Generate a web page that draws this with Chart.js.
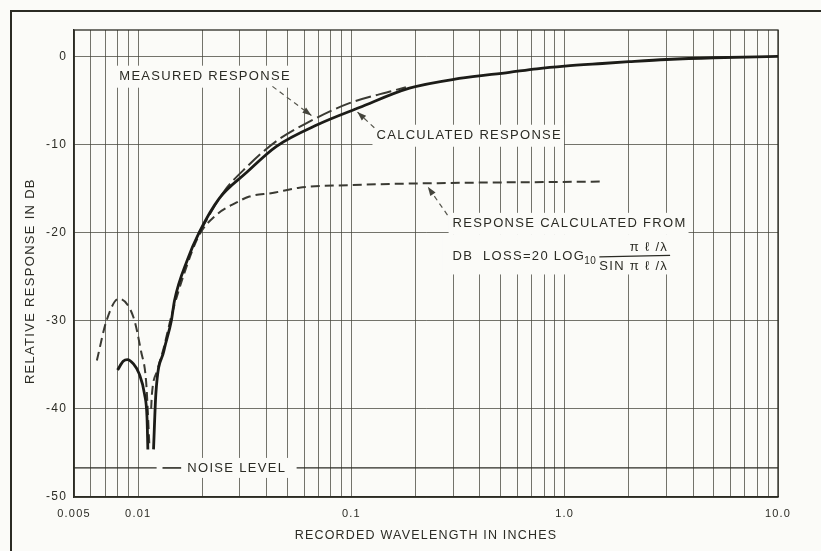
<!DOCTYPE html>
<html>
<head>
<meta charset="utf-8">
<script src="https://cdn.jsdelivr.net/npm/chart.js@4.4.1/dist/chart.umd.min.js"></script>
<style>
  html, body { margin: 0; padding: 0; background: #fbfbf8; }
  #wrap { position: relative; width: 821px; height: 551px; }
  #frame { position: absolute; left: 10px; top: 10px; right: 0; bottom: 0;
           border-top: 2px solid #2b2b24; border-left: 2px solid #2b2b24; pointer-events: none; }
  canvas { display: block; }
</style>
</head>
<body>
<div id="wrap">
  <canvas id="chart" width="821" height="551"></canvas>
  <div id="frame"></div>
</div>
<script>
// recorded wavelength (inches) vs relative response (dB)
const calcX = [0.0080, 0.0085, 0.0089, 0.0095, 0.0101, 0.0107, 0.0110, 0.0111, 0.0115, 0.0118, 0.0121, 0.0132, 0.0143, 0.0148, 0.0170, 0.0193, 0.0240, 0.0321, 0.0445, 0.070, 0.109, 0.187, 0.32, 0.55, 0.74, 1.0, 1.5, 2.0, 3.0, 5.0, 10.0];
const calcY = [-35.6, -34.6, -34.4, -34.9, -36.0, -38.3, -41.0, -44.6, null, -44.6, -38.3, -33.4, -30.0, -27.7, -23.1, -20.0, -16.1, -13.2, -10.2, -7.7, -5.8, -3.6, -2.5, -1.8, -1.4, -1.1, -0.8, -0.6, -0.35, -0.15, 0.0];

const measX = [0.0193, 0.0253, 0.0321, 0.0445, 0.0635, 0.0978, 0.156, 0.18];
const measY = [-20.0, -15.3, -12.6, -9.6, -7.4, -5.3, -3.9, -3.5];

const formulaX = [0.0064, 0.0071, 0.0081, 0.0095, 0.0103, 0.0109, 0.0113, 0.0114, 0.0115, 0.0116, 0.0123, 0.0132, 0.0143, 0.0165, 0.0193, 0.0232, 0.0288, 0.0332, 0.0426, 0.0569, 0.0978, 0.224, 1.5];
const formulaY = [-34.5, -30.0, -27.5, -29.6, -33.4, -37.0, -44.4, null, -40.0, -38.3, -35.6, -33.0, -29.5, -24.5, -20.3, -18.0, -16.6, -15.9, -15.5, -14.9, -14.6, -14.4, -14.2];

const noiseLevel = -46.7;

const xGrid = [0.005, 0.006, 0.007, 0.008, 0.009,
               0.01, 0.02, 0.03, 0.04, 0.05, 0.06, 0.07, 0.08, 0.09,
               0.1, 0.2, 0.3, 0.4, 0.5, 0.6, 0.7, 0.8, 0.9,
               1, 2, 3, 4, 5, 6, 7, 8, 9, 10];
const xLabels = { 0.005: '0.005', 0.01: '0.01', 0.1: '0.1', 1: '1.0', 10: '10.0' };
const yTicks = [-50, -40, -30, -20, -10, 0];

// lettering on the sheet, anchored in data units
const notes = [
  { text: 'MEASURED RESPONSE', x: 0.00815, y: -2.3 },
  { text: 'CALCULATED RESPONSE', x: 0.131, y: -9.0 },
  { text: 'RESPONSE CALCULATED FROM', x: 0.298, y: -19.0 }
];
const arrows = [
  { from: [0.0426, -3.4], to: [0.0649, -6.7] },
  { from: [0.128, -8.1], to: [0.1066, -6.3] },
  { from: [0.282, -18.0], to: [0.228, -14.8] }
];
const formulaNote = { x: 0.298, y: -22.7 };
const yTitle = { text: 'RELATIVE RESPONSE IN DB', y: -25.5 };

const BG = '#fbfbf8';
const INK = '#2b2b24';
const FAMILY = '"Liberation Sans", Arial, sans-serif';
const FONT = '13px ' + FAMILY;

function toPts(xs, ys) {
  return xs.map((v, i) => ({ x: v, y: ys[i] }));
}

function drawArrow(ctx, x1, y1, x2, y2) {
  ctx.setLineDash([5, 4]);
  ctx.beginPath();
  ctx.moveTo(x1, y1);
  ctx.lineTo(x2, y2);
  ctx.stroke();
  ctx.setLineDash([]);
  const a = Math.atan2(y2 - y1, x2 - x1), L = 9, W = 3.2;
  ctx.beginPath();
  ctx.moveTo(x2, y2);
  ctx.lineTo(x2 - L * Math.cos(a) + W * Math.sin(a), y2 - L * Math.sin(a) - W * Math.cos(a));
  ctx.lineTo(x2 - L * Math.cos(a) - W * Math.sin(a), y2 - L * Math.sin(a) + W * Math.cos(a));
  ctx.closePath();
  ctx.fill();
}

const sheet = {
  id: 'sheet',
  beforeDraw(chart) {
    // wide lettering for ticks and axis title
    chart.ctx.letterSpacing = '1.2px';
  },
  beforeDatasetsDraw(chart) {
    const { ctx, chartArea: area, scales: { x, y } } = chart;
    ctx.save();
    ctx.letterSpacing = '1.3px';
    ctx.font = FONT;

    // plot frame
    ctx.strokeStyle = INK;
    ctx.lineWidth = 1.3;
    ctx.strokeRect(area.left, area.top, area.right - area.left, area.bottom - area.top);

    // noise level line
    const ny = y.getPixelForValue(noiseLevel);
    ctx.lineWidth = 1.2;
    ctx.beginPath();
    ctx.moveTo(area.left, ny);
    ctx.lineTo(area.right, ny);
    ctx.stroke();

    // blank the grid behind the lettering
    ctx.fillStyle = BG;
    notes.forEach(n => {
      const px = x.getPixelForValue(n.x), py = y.getPixelForValue(n.y);
      const w = ctx.measureText(n.text).width;
      ctx.fillRect(px - 4, py - 11, w + 6, 22);
    });
    const fx = x.getPixelForValue(formulaNote.x), fy = y.getPixelForValue(formulaNote.y);
    ctx.fillRect(fx - 10, fy - 22, 250, 40);
    ctx.fillRect(x.getPixelForValue(0.0122), ny - 10, 140, 20);

    // y axis title, placed as on the sheet
    ctx.fillStyle = INK;
    ctx.translate(30, y.getPixelForValue(yTitle.y));
    ctx.rotate(-Math.PI / 2);
    ctx.textAlign = 'center';
    ctx.textBaseline = 'middle';
    ctx.fillText(yTitle.text, 0, 0);
    ctx.restore();
  },
  afterDatasetsDraw(chart) {
    const { ctx, scales: { x, y } } = chart;
    ctx.save();
    ctx.fillStyle = INK;
    ctx.strokeStyle = '#55554c';
    ctx.lineWidth = 1.2;
    ctx.font = FONT;
    ctx.letterSpacing = '1.3px';
    ctx.textBaseline = 'middle';
    ctx.textAlign = 'left';

    notes.forEach(n => {
      ctx.fillText(n.text, x.getPixelForValue(n.x), y.getPixelForValue(n.y));
    });
    ctx.fillStyle = '#44443c';
    arrows.forEach(a => {
      drawArrow(ctx,
        x.getPixelForValue(a.from[0]), y.getPixelForValue(a.from[1]),
        x.getPixelForValue(a.to[0]), y.getPixelForValue(a.to[1]));
    });

    // DB LOSS = 20 LOG10 (pi l / lambda) / (SIN pi l / lambda)
    ctx.fillStyle = INK;
    let fx = x.getPixelForValue(formulaNote.x);
    const fy = y.getPixelForValue(formulaNote.y);
    const lead = 'DB  LOSS=20 LOG';
    ctx.fillText(lead, fx, fy);
    fx += ctx.measureText(lead).width;
    ctx.font = '10px ' + FAMILY;
    ctx.letterSpacing = '0.5px';
    ctx.fillText('10', fx - 1, fy + 5);
    fx += ctx.measureText('10').width + 2;
    ctx.font = FONT;
    ctx.letterSpacing = '1.3px';
    const den = 'SIN π ℓ /λ', num = 'π ℓ /λ';
    const dw = ctx.measureText(den).width;
    ctx.fillText(den, fx, fy + 10);
    ctx.textAlign = 'right';
    ctx.fillText(num, fx + dw, fy - 9);
    ctx.strokeStyle = INK;
    ctx.beginPath();
    ctx.moveTo(fx, fy + 0.5);
    ctx.lineTo(fx + dw + 2, fy - 1);
    ctx.stroke();

    // noise level label
    const ny = y.getPixelForValue(noiseLevel);
    ctx.textAlign = 'left';
    ctx.lineWidth = 1.6;
    ctx.beginPath();
    ctx.moveTo(x.getPixelForValue(0.0130), ny);
    ctx.lineTo(x.getPixelForValue(0.0159), ny);
    ctx.stroke();
    ctx.fillText('NOISE LEVEL', x.getPixelForValue(0.0170), ny);
    ctx.restore();
  }
};

new Chart(document.getElementById('chart'), {
  type: 'line',
  data: {
    datasets: [
      {
        label: 'Calculated response',
        data: toPts(calcX, calcY),
        borderColor: '#1c1c18',
        borderWidth: 2.8,
        cubicInterpolationMode: 'monotone',
        pointRadius: 0
      },
      {
        label: 'Measured response',
        data: toPts(measX, measY),
        borderColor: '#3a3a33',
        borderWidth: 2,
        borderDash: [16, 5],
        cubicInterpolationMode: 'monotone',
        pointRadius: 0
      },
      {
        label: 'Response calculated from formula',
        data: toPts(formulaX, formulaY),
        borderColor: '#3a3a33',
        borderWidth: 2,
        borderDash: [9, 5],
        cubicInterpolationMode: 'monotone',
        pointRadius: 0
      }
    ]
  },
  options: {
    responsive: false,
    animation: false,
    events: [],
    layout: { padding: { left: 0, right: 43, top: 30, bottom: 0 } },
    plugins: {
      legend: { display: false },
      tooltip: { enabled: false }
    },
    scales: {
      x: {
        type: 'logarithmic',
        min: 0.005,
        max: 10,
        afterBuildTicks: scale => { scale.ticks = xGrid.map(v => ({ value: v })); },
        afterFit: scale => { scale.height = 54; },
        grid: { color: 'rgba(70,70,60,0.75)', lineWidth: 1, drawTicks: false },
        border: { color: INK, width: 1.3 },
        ticks: {
          autoSkip: false,
          maxRotation: 0,
          padding: 10,
          color: INK,
          font: { family: FAMILY, size: 11 },
          callback: v => xLabels[v] || ''
        },
        title: {
          display: true,
          text: 'RECORDED WAVELENGTH IN INCHES',
          color: INK,
          font: { family: FAMILY, size: 12.5 },
          padding: { top: 0, bottom: 8 }
        }
      },
      y: {
        min: -50,
        max: 3,
        afterBuildTicks: scale => { scale.ticks = yTicks.map(v => ({ value: v })); },
        afterFit: scale => { scale.width = 74; },
        grid: { color: 'rgba(70,70,60,0.75)', lineWidth: 1, drawTicks: false },
        border: { color: INK, width: 1.3 },
        ticks: {
          padding: 7,
          color: INK,
          font: { family: FAMILY, size: 12 },
          callback: v => String(v)
        }
      }
    }
  },
  plugins: [sheet]
});
</script>
</body>
</html>
